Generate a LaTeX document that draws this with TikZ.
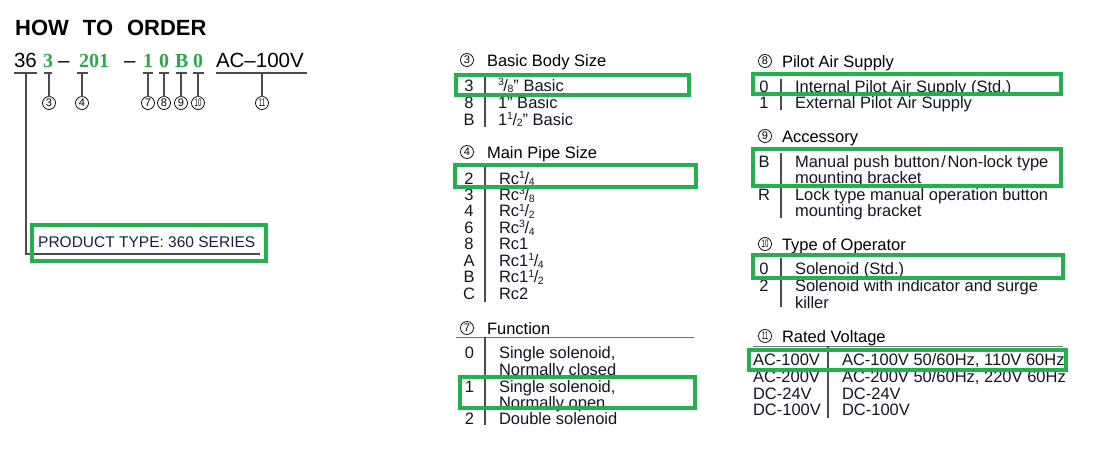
\documentclass[tikz,border=0pt]{standalone}
\usepackage{fontspec}
\usepackage{graphicx}
\setmainfont{Liberation Sans}
\newfontfamily\serifb{Liberation Serif}
\definecolor{boxgreen}{RGB}{34,177,76}
\definecolor{codegreen}{RGB}{40,170,75}
\definecolor{ink}{RGB}{20,20,40}
\definecolor{navy}{RGB}{25,30,70}
\newcommand\fr[2]{\raisebox{5.5pt}{\fontsize{10.5}{10.5}\selectfont #1}\kern-0.4pt/\kern-0.4pt\raisebox{-1.8pt}{\fontsize{10.5}{10.5}\selectfont #2}}
\newcommand\sq[1]{\scalebox{0.55}[1]{#1}}
\tikzset{
  txt/.style={anchor=base west, inner sep=0pt, outer sep=0pt, text=ink, font=\fontsize{16.5}{16.5}\selectfont},
  keyc/.style={anchor=base, inner sep=0pt, outer sep=0pt, text=ink, font=\fontsize{16.5}{16.5}\selectfont},
  hdr/.style={anchor=base west, inner sep=0pt, outer sep=0pt, font=\fontsize{16.5}{16.5}\selectfont},
  cnode/.style={circle, draw=black, line width=0.75pt, minimum size=13pt, inner sep=0pt, outer sep=0pt, font=\fontsize{11}{11}\selectfont},
  code/.style={anchor=base west, inner sep=0pt, outer sep=0pt, font=\fontsize{20.5}{20.5}\selectfont},
  gcode/.style={anchor=base west, inner sep=0pt, outer sep=0pt, text=codegreen, font=\serifb\bfseries\fontsize{20}{20}\selectfont},
  bar/.style={draw=black!70, line width=1.1pt},
  hrule/.style={draw=black!55, line width=1pt},
  tick/.style={draw=black!70, line width=1.3pt},
  hl/.style={draw=boxgreen, line width=4pt},
}
\begin{document}
\begin{tikzpicture}[x=1pt,y=-1pt]
\useasboundingbox (0,0) rectangle (1095,461);
% ---------------- title
\node[anchor=base west, inner sep=0pt, font=\bfseries\fontsize{22}{22}\selectfont] (title) at (15,35) {HOW\hspace{14pt}TO\hspace{14pt}ORDER};
% ---------------- code line
\node[code]  (c36)  at (14,67)  {36};
\node[gcode] (c3)   at (43,67)  {3};
\node[code]  (d1)   at (58,67)  {–};
\node[gcode] (c201) at (79,67)  {201};
\node[code]  (d2)   at (124,67) {–};
\node[gcode] (c1)   at (143,67) {1};
\node[gcode] (c0a)  at (159,67) {0};
\node[gcode] (cB)   at (175,67) {B};
\node[gcode] (c0b)  at (193,67) {0};
\node[code]  (cAC)  at (216,67) {AC–100V};
% underlines and ticks
\foreach \n/\a/\b/\m in {36/14/37/26, 3/44/52/49, 4/77/88/82, 7/143/153/148, 8/159/169/164, 9/176/187/181, 10/193/204/198, 11/216/307/262}{
  \coordinate (ua\n) at (\a,73);
  \coordinate (ub\n) at (\b,73);
  \coordinate (t\n) at (\m,73);
  \draw[tick] (ua\n) -- (ub\n);
}
\node[cnode] (n3)  at (49,103)  {3};
\node[cnode] (n4)  at (82,103)  {4};
\node[cnode] (n7)  at (148,103) {7};
\node[cnode] (n8)  at (164,103) {8};
\node[cnode] (n9)  at (181,103) {9};
\node[cnode] (n10) at (198,103) {\sq{10}};
\node[cnode] (n11) at (262,103) {\sq{11}};
\foreach \n in {3,4,7,8,9,10,11}{ \draw[tick] (t\n) -- (n\n.north); }
% product type
\coordinate (pend) at (260,254);
\draw[tick] (t36) |- (pend);
\node[anchor=base west, inner sep=0pt, text=navy, font=\fontsize{15.5}{15.5}\selectfont] (ptype) at (38,247) {PRODUCT TYPE: 360 SERIES};
% ---------------- section 3
\node[cnode] (h3c) at (467,60) {3};
\node[hdr] (h3t) at (487,66) {Basic Body Size};
\draw[bar] (485,75) -- (485,127);
\foreach \k/\v/\y [count=\i] in {3/{\fr38" Basic}/91, 8/{1" Basic}/108, B/{1\fr12" Basic}/125}{
  \node[keyc] (sA-k\i) at (469,\y) {\k};
  \node[txt]  (sA-v\i) at (498,\y) {\v};
}
% ---------------- section 4
\node[cnode] (h4c) at (467,152) {4};
\node[hdr] (h4t) at (487,158) {Main Pipe Size};
\draw[bar] (485,167) -- (485,302);
\foreach \k/\v [count=\i] in {2/{Rc\fr14}, 3/{Rc\fr38}, 4/{Rc\fr12}, 6/{Rc\fr34}, 8/{Rc1}, A/{Rc1\fr14}, B/{Rc1\fr12}, C/{Rc2}}{
  \pgfmathsetmacro\yy{184+16.45*(\i-1)}
  \node[keyc] (sB-k\i) at (469,\yy) {\k};
  \node[txt]  (sB-v\i) at (499,\yy) {\v};
}
% ---------------- section 7
\node[cnode] (h7c) at (467,328) {7};
\node[hdr] (h7t) at (487,334) {Function};
\draw[hrule] (456,337) -- (694,337);
\draw[bar] (485,337) -- (485,425);
\node[keyc] (sC-k1) at (469.5,358) {0};
\node[txt]  (sC-v1) at (499,358) {Single solenoid,};
\node[txt]  (sC-v1b) at (499,375) {Normally closed};
\node[keyc] (sC-k2) at (469.5,392) {1};
\node[txt]  (sC-v2) at (499,392) {Single solenoid,};
\node[txt]  (sC-v2b) at (499,408) {Normally open};
\node[keyc] (sC-k3) at (469.5,424) {2};
\node[txt]  (sC-v3) at (499,424) {Double solenoid};
% ---------------- section 8
\node[cnode] (h8c) at (765,61) {8};
\node[hdr] (h8t) at (782,67) {Pilot Air Supply};
\draw[bar] (781,79) -- (781,110);
\node[keyc] (sD-k1) at (764,92) {0};
\node[txt]  (sD-v1) at (795,92) {Internal Pilot Air Supply (Std.)};
\node[keyc] (sD-k2) at (764,108) {1};
\node[txt]  (sD-v2) at (795,108) {External Pilot Air Supply};
% ---------------- section 9
\node[cnode] (h9c) at (765,136) {9};
\node[hdr] (h9t) at (782,142) {Accessory};
\draw[bar] (781,153) -- (781,218);
\node[keyc] (sE-k1) at (764,167) {B};
\node[txt]  (sE-v1) at (795,167) {Manual push button\kern1.5pt/\kern1.5pt Non-lock type};
\node[txt]  (sE-v1b) at (795,183) {mounting bracket};
\node[keyc] (sE-k2) at (764,200) {R};
\node[txt]  (sE-v2) at (795,200) {Lock type manual operation button};
\node[txt]  (sE-v2b) at (795,216) {mounting bracket};
% ---------------- section 10
\node[cnode] (h10c) at (765,244) {\sq{10}};
\node[hdr] (h10t) at (782,250) {Type of Operator};
\draw[bar] (781,258) -- (781,307);
\node[keyc] (sF-k1) at (764,274) {0};
\node[txt]  (sF-v1) at (795,274) {Solenoid (Std.)};
\node[keyc] (sF-k2) at (764,291) {2};
\node[txt]  (sF-v2) at (795,291) {Solenoid with indicator and surge};
\node[txt]  (sF-v2b) at (795,308) {killer};
% ---------------- section 11
\node[cnode] (h11c) at (765,336) {\sq{11}};
\node[hdr] (h11t) at (782,342) {Rated Voltage};
\draw[hrule] (753,346) -- (1063,346);
\draw[bar] (828,346) -- (828,418);
\foreach \k/\v/\y [count=\i] in {AC-100V/{AC-100V 50/60Hz, 110V 60Hz}/365, AC-200V/{AC-200V 50/60Hz, 220V 60Hz}/382, DC-24V/{DC-24V}/399, DC-100V/{DC-100V}/415}{
  \node[txt] (sG-k\i) at (753,\y) {\k};
  \node[txt] (sG-v\i) at (842,\y) {\v};
}
% ---------------- green highlight boxes
\draw[hl] (32,225.3) rectangle (266.3,261.3);
\draw[hl] (456,74.7) rectangle (688.7,95.3);
\draw[hl] (455,165) rectangle (696,187);
\draw[hl] (460,377) rectangle (695,408);
\draw[hl] (752.7,73.7) rectangle (1061,94);
\draw[hl] (752.7,148.7) rectangle (1061,186.3);
\draw[hl] (752.7,255.3) rectangle (1063,278);
\draw[hl] (748.7,349.7) rectangle (1066,369.7);
\end{tikzpicture}
\end{document}
